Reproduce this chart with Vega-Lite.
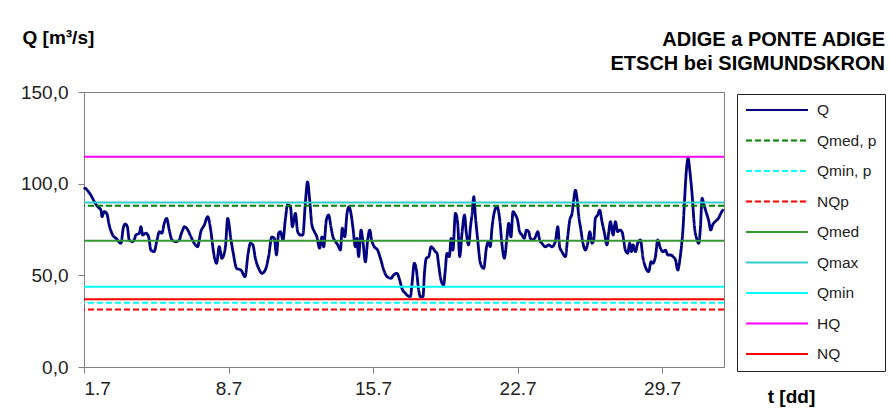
{
  "$schema": "https://vega.github.io/schema/vega-lite/v6.json",
  "autosize": "none",
  "width": 640,
  "height": 275,
  "padding": {"left": 84, "top": 92, "right": 166, "bottom": 49},
  "background": "white",
  "config": {
    "font": "Liberation Sans",
    "view": {"stroke": "#808080", "strokeWidth": 1}
  },
  "title": {
    "text": ["ADIGE a PONTE ADIGE", "ETSCH bei SIGMUNDSKRON"],
    "anchor": "end",
    "frame": "group",
    "align": "right",
    "baseline": "bottom",
    "dx": 161,
    "dy": 84,
    "offset": 18,
    "font": "Liberation Sans",
    "fontSize": 20,
    "fontWeight": "bold",
    "lineHeight": 24,
    "color": "#000000"
  },
  "datasets": {
    "levels": [
      {"s": "Qmed, p", "v": 88},
      {"s": "Qmin, p", "v": 35},
      {"s": "NQp", "v": 31.3},
      {"s": "Qmed", "v": 68.8},
      {"s": "Qmax", "v": 89.7},
      {"s": "Qmin", "v": 43.8},
      {"s": "HQ", "v": 114.7},
      {"s": "NQ", "v": 37}
    ],
    "flow": [
      {"d": 1.0, "q": 97},
      {"d": 1.06, "q": 97.5},
      {"d": 1.15, "q": 96.5},
      {"d": 1.33, "q": 93.8},
      {"d": 1.5, "q": 90.2},
      {"d": 1.66, "q": 87.5},
      {"d": 1.82, "q": 85.6},
      {"d": 1.87, "q": 82},
      {"d": 1.98, "q": 84.7},
      {"d": 2.1, "q": 83.8},
      {"d": 2.22, "q": 77.5},
      {"d": 2.39, "q": 72},
      {"d": 2.55, "q": 70.2},
      {"d": 2.79, "q": 67.5},
      {"d": 2.9, "q": 75.7},
      {"d": 3.0, "q": 78},
      {"d": 3.1, "q": 76.5},
      {"d": 3.19, "q": 69.3},
      {"d": 3.35, "q": 68.4},
      {"d": 3.43, "q": 69.3},
      {"d": 3.51, "q": 72},
      {"d": 3.68, "q": 73},
      {"d": 3.76, "q": 76.5},
      {"d": 3.84, "q": 72},
      {"d": 4.0, "q": 73},
      {"d": 4.13, "q": 71},
      {"d": 4.24, "q": 63.8},
      {"d": 4.4, "q": 62.9},
      {"d": 4.52, "q": 68.4},
      {"d": 4.65, "q": 73.8},
      {"d": 4.77, "q": 73},
      {"d": 4.89, "q": 78.4},
      {"d": 5.0, "q": 81.1},
      {"d": 5.13, "q": 74.7},
      {"d": 5.26, "q": 69.3},
      {"d": 5.45, "q": 68.4},
      {"d": 5.62, "q": 69.3},
      {"d": 5.69, "q": 72},
      {"d": 5.78, "q": 74.7},
      {"d": 5.86, "q": 76.5},
      {"d": 5.97, "q": 75.7},
      {"d": 6.07, "q": 73.8},
      {"d": 6.18, "q": 71},
      {"d": 6.34, "q": 67.5},
      {"d": 6.5, "q": 65.6},
      {"d": 6.66, "q": 73.8},
      {"d": 6.83, "q": 77.5},
      {"d": 6.99, "q": 82},
      {"d": 7.15, "q": 73.8},
      {"d": 7.26, "q": 63.8},
      {"d": 7.42, "q": 56.6},
      {"d": 7.55, "q": 65.6},
      {"d": 7.68, "q": 59.3},
      {"d": 7.85, "q": 65.6},
      {"d": 7.96, "q": 81.1},
      {"d": 8.12, "q": 69.3},
      {"d": 8.23, "q": 62},
      {"d": 8.39, "q": 53.8},
      {"d": 8.6, "q": 52.9},
      {"d": 8.8, "q": 49.3},
      {"d": 8.95, "q": 62},
      {"d": 9.06, "q": 67.5},
      {"d": 9.18, "q": 66.6},
      {"d": 9.3, "q": 59.3},
      {"d": 9.46, "q": 53.8},
      {"d": 9.62, "q": 51.1},
      {"d": 9.78, "q": 52.9},
      {"d": 9.94, "q": 60.2},
      {"d": 10.1, "q": 71},
      {"d": 10.22, "q": 70.2},
      {"d": 10.32, "q": 61.1},
      {"d": 10.43, "q": 73},
      {"d": 10.51, "q": 73.8},
      {"d": 10.64, "q": 69.3},
      {"d": 10.75, "q": 80.2},
      {"d": 10.86, "q": 88.4},
      {"d": 11.0, "q": 87.5},
      {"d": 11.09, "q": 76.5},
      {"d": 11.24, "q": 83.8},
      {"d": 11.35, "q": 73.8},
      {"d": 11.48, "q": 72},
      {"d": 11.6, "q": 72},
      {"d": 11.72, "q": 89.3},
      {"d": 11.83, "q": 101},
      {"d": 11.93, "q": 91.1},
      {"d": 12.04, "q": 77.5},
      {"d": 12.16, "q": 73.8},
      {"d": 12.28, "q": 71},
      {"d": 12.41, "q": 64.8},
      {"d": 12.53, "q": 71},
      {"d": 12.61, "q": 65.6},
      {"d": 12.74, "q": 80.2},
      {"d": 12.85, "q": 82.9},
      {"d": 12.96, "q": 76.5},
      {"d": 13.06, "q": 71},
      {"d": 13.18, "q": 68.4},
      {"d": 13.29, "q": 66.6},
      {"d": 13.42, "q": 63.8},
      {"d": 13.51, "q": 75.7},
      {"d": 13.63, "q": 71},
      {"d": 13.74, "q": 83.8},
      {"d": 13.83, "q": 87.5},
      {"d": 13.93, "q": 83.8},
      {"d": 14.03, "q": 75.7},
      {"d": 14.14, "q": 65.6},
      {"d": 14.22, "q": 70.2},
      {"d": 14.3, "q": 60.2},
      {"d": 14.42, "q": 74.7},
      {"d": 14.51, "q": 68.4},
      {"d": 14.63, "q": 57.4},
      {"d": 14.74, "q": 69.3},
      {"d": 14.84, "q": 74.7},
      {"d": 14.93, "q": 69.3},
      {"d": 15.06, "q": 65.6},
      {"d": 15.22, "q": 63.8},
      {"d": 15.38, "q": 58.4},
      {"d": 15.52, "q": 52.9},
      {"d": 15.68, "q": 49.3},
      {"d": 15.87, "q": 48.4},
      {"d": 16.0, "q": 50.2},
      {"d": 16.16, "q": 51.1},
      {"d": 16.29, "q": 47.5},
      {"d": 16.4, "q": 42.9},
      {"d": 16.57, "q": 40.2},
      {"d": 16.7, "q": 38.7},
      {"d": 16.81, "q": 38.4},
      {"d": 16.89, "q": 45.7},
      {"d": 17.0, "q": 56.6},
      {"d": 17.1, "q": 52.9},
      {"d": 17.21, "q": 42},
      {"d": 17.29, "q": 38.4},
      {"d": 17.42, "q": 38.4},
      {"d": 17.49, "q": 51.1},
      {"d": 17.58, "q": 59.3},
      {"d": 17.7, "q": 60.2},
      {"d": 17.81, "q": 65.6},
      {"d": 17.9, "q": 64.8},
      {"d": 18.02, "q": 62.9},
      {"d": 18.1, "q": 62},
      {"d": 18.18, "q": 55.6},
      {"d": 18.29, "q": 47.5},
      {"d": 18.42, "q": 44.7},
      {"d": 18.5, "q": 52.9},
      {"d": 18.58, "q": 62},
      {"d": 18.7, "q": 60.2},
      {"d": 18.78, "q": 70.2},
      {"d": 18.87, "q": 63.8},
      {"d": 18.99, "q": 83.8},
      {"d": 19.1, "q": 78.4},
      {"d": 19.2, "q": 60.2},
      {"d": 19.31, "q": 73},
      {"d": 19.43, "q": 82.9},
      {"d": 19.52, "q": 73},
      {"d": 19.63, "q": 66.6},
      {"d": 19.72, "q": 76.5},
      {"d": 19.8, "q": 83.8},
      {"d": 19.88, "q": 92.9},
      {"d": 19.96, "q": 82},
      {"d": 20.07, "q": 69.3},
      {"d": 20.2, "q": 56.6},
      {"d": 20.36, "q": 53.8},
      {"d": 20.5, "q": 65.6},
      {"d": 20.6, "q": 68.4},
      {"d": 20.68, "q": 65.6},
      {"d": 20.76, "q": 75.7},
      {"d": 20.88, "q": 84.7},
      {"d": 21.0, "q": 87.5},
      {"d": 21.14, "q": 80.2},
      {"d": 21.24, "q": 67.5},
      {"d": 21.36, "q": 59.3},
      {"d": 21.49, "q": 71},
      {"d": 21.57, "q": 78.4},
      {"d": 21.68, "q": 71},
      {"d": 21.78, "q": 84.7},
      {"d": 21.9, "q": 82.9},
      {"d": 22.0, "q": 80.2},
      {"d": 22.1, "q": 73.8},
      {"d": 22.22, "q": 72},
      {"d": 22.33, "q": 70.2},
      {"d": 22.43, "q": 74.7},
      {"d": 22.54, "q": 73.8},
      {"d": 22.62, "q": 70.2},
      {"d": 22.75, "q": 69.3},
      {"d": 22.87, "q": 71},
      {"d": 22.98, "q": 73.8},
      {"d": 23.07, "q": 69.3},
      {"d": 23.18, "q": 67.5},
      {"d": 23.35, "q": 65.6},
      {"d": 23.51, "q": 66.6},
      {"d": 23.67, "q": 65.6},
      {"d": 23.83, "q": 68.4},
      {"d": 23.95, "q": 76.5},
      {"d": 24.04, "q": 65.6},
      {"d": 24.15, "q": 62.9},
      {"d": 24.32, "q": 60.2},
      {"d": 24.43, "q": 71},
      {"d": 24.53, "q": 80.2},
      {"d": 24.64, "q": 83.8},
      {"d": 24.72, "q": 91.1},
      {"d": 24.8, "q": 96.5},
      {"d": 24.88, "q": 92},
      {"d": 24.96, "q": 82.9},
      {"d": 25.07, "q": 74.7},
      {"d": 25.17, "q": 67.5},
      {"d": 25.29, "q": 63.8},
      {"d": 25.4, "q": 67.5},
      {"d": 25.5, "q": 73.8},
      {"d": 25.61, "q": 67.5},
      {"d": 25.69, "q": 69.3},
      {"d": 25.77, "q": 81.1},
      {"d": 25.88, "q": 82.9},
      {"d": 25.98, "q": 85.6},
      {"d": 26.09, "q": 79.3},
      {"d": 26.21, "q": 73},
      {"d": 26.33, "q": 66.6},
      {"d": 26.42, "q": 73.8},
      {"d": 26.5, "q": 79.3},
      {"d": 26.63, "q": 72},
      {"d": 26.74, "q": 79.3},
      {"d": 26.85, "q": 73.8},
      {"d": 26.95, "q": 74.7},
      {"d": 27.06, "q": 73.8},
      {"d": 27.14, "q": 69.3},
      {"d": 27.22, "q": 63.8},
      {"d": 27.34, "q": 62},
      {"d": 27.43, "q": 67.5},
      {"d": 27.52, "q": 62.9},
      {"d": 27.59, "q": 66.6},
      {"d": 27.71, "q": 62.9},
      {"d": 27.82, "q": 67.5},
      {"d": 27.95, "q": 69.3},
      {"d": 28.08, "q": 59.3},
      {"d": 28.19, "q": 54.7},
      {"d": 28.35, "q": 52},
      {"d": 28.47, "q": 57.4},
      {"d": 28.56, "q": 56.6},
      {"d": 28.68, "q": 60.2},
      {"d": 28.79, "q": 69.3},
      {"d": 28.92, "q": 64.8},
      {"d": 29.05, "q": 62.9},
      {"d": 29.16, "q": 63.8},
      {"d": 29.28, "q": 61.1},
      {"d": 29.41, "q": 61.1},
      {"d": 29.53, "q": 60.2},
      {"d": 29.65, "q": 58.4},
      {"d": 29.76, "q": 52.9},
      {"d": 29.86, "q": 58.4},
      {"d": 29.92, "q": 63.8},
      {"d": 30.02, "q": 76.5},
      {"d": 30.09, "q": 91.1},
      {"d": 30.18, "q": 107.5},
      {"d": 30.26, "q": 113.9},
      {"d": 30.34, "q": 107.5},
      {"d": 30.45, "q": 94.8},
      {"d": 30.57, "q": 76.5},
      {"d": 30.67, "q": 70.2},
      {"d": 30.78, "q": 67.5},
      {"d": 30.86, "q": 76.5},
      {"d": 30.94, "q": 92},
      {"d": 31.03, "q": 88.4},
      {"d": 31.13, "q": 84.7},
      {"d": 31.25, "q": 80.2},
      {"d": 31.36, "q": 74.7},
      {"d": 31.45, "q": 77.5},
      {"d": 31.57, "q": 79.3},
      {"d": 31.73, "q": 81.1},
      {"d": 31.89, "q": 84.7},
      {"d": 31.98, "q": 86}
    ]
  },
  "encoding": {
    "x": {
      "type": "quantitative",
      "scale": {"domain": [1, 32], "nice": false, "zero": false},
      "axis": {
        "values": [1, 8, 15, 22, 29],
        "labelExpr": "datum.value + '.7'",
        "grid": false,
        "domainColor": "#808080",
        "tickColor": "#808080",
        "tickSize": 6,
        "labelFont": "Liberation Sans",
        "labelFontSize": 19,
        "labelColor": "#222222",
        "labelPadding": 6,
        "title": "t [dd]",
        "titleFont": "Liberation Sans",
        "titleFontSize": 19,
        "titleFontWeight": "bold",
        "titleColor": "#000000",
        "titleX": 707,
        "titleY": 29,
        "titleAlign": "center",
        "titleBaseline": "middle",
        "titleAnchor": null
      }
    },
    "y": {
      "type": "quantitative",
      "scale": {"domain": [0, 150], "nice": false},
      "axis": {
        "values": [0, 50, 100, 150],
        "labelExpr": "replace(format(datum.value, '.1f'), '.', ',')",
        "grid": false,
        "domainColor": "#808080",
        "tickColor": "#808080",
        "tickSize": 6,
        "labelFont": "Liberation Sans",
        "labelFontSize": 19,
        "labelColor": "#222222",
        "labelPadding": 10,
        "title": "Q [m³/s]",
        "titleFont": "Liberation Sans",
        "titleFontSize": 19,
        "titleFontWeight": "bold",
        "titleColor": "#000000",
        "titleAngle": 0,
        "titleAlign": "left",
        "titleBaseline": "middle",
        "titleX": -62,
        "titleY": -55
      }
    }
  },
  "layer": [
    {
      "data": {"name": "flow"},
      "mark": {"type": "line", "strokeWidth": 2.8, "interpolate": "monotone"},
      "encoding": {
        "x": {"field": "d", "type": "quantitative"},
        "y": {"field": "q", "type": "quantitative"},
        "color": {"datum": "Q", "type": "nominal"},
        "strokeDash": {"datum": "Q", "type": "nominal"}
      }
    },
    {
      "data": {"name": "levels"},
      "mark": {"type": "rule", "strokeWidth": 2},
      "encoding": {
        "y": {"field": "v", "type": "quantitative"},
        "color": {
          "field": "s",
          "type": "nominal",
          "scale": {
            "domain": ["Q", "Qmed, p", "Qmin, p", "NQp", "Qmed", "Qmax", "Qmin", "HQ", "NQ"],
            "range": ["#000080", "#008000", "#00FFFF", "#FF0000", "#339933", "#33CCCC", "#00FFFF", "#FF00FF", "#FF0000"]
          },
          "legend": {
            "title": null,
            "orient": "none",
            "legendX": 653,
            "legendY": 2,
            "padding": 8,
            "strokeColor": "#222222",
            "fillColor": "white",
            "symbolType": "M-1,0H2.875",
            "symbolSize": 1024,
            "symbolStrokeWidth": 2,
            "clipHeight": 16,
            "rowPadding": 13.5,
            "labelFont": "Liberation Sans",
            "labelFontSize": 15.5,
            "labelColor": "#222222",
            "labelOffset": 38
          }
        },
        "strokeDash": {
          "field": "s",
          "type": "nominal",
          "scale": {
            "domain": ["Q", "Qmed, p", "Qmin, p", "NQp", "Qmed", "Qmax", "Qmin", "HQ", "NQ"],
            "range": [[1, 0], [6, 3], [6, 3], [6, 3], [1, 0], [1, 0], [1, 0], [1, 0], [1, 0]]
          },
          "legend": {
            "title": null,
            "orient": "none",
            "legendX": 653,
            "legendY": 2,
            "padding": 8,
            "strokeColor": "#222222",
            "fillColor": "white",
            "symbolType": "M-1,0H2.875",
            "symbolSize": 1024,
            "symbolStrokeWidth": 2,
            "clipHeight": 16,
            "rowPadding": 13.5,
            "labelFont": "Liberation Sans",
            "labelFontSize": 15.5,
            "labelColor": "#222222",
            "labelOffset": 38
          }
        }
      }
    }
  ]
}
